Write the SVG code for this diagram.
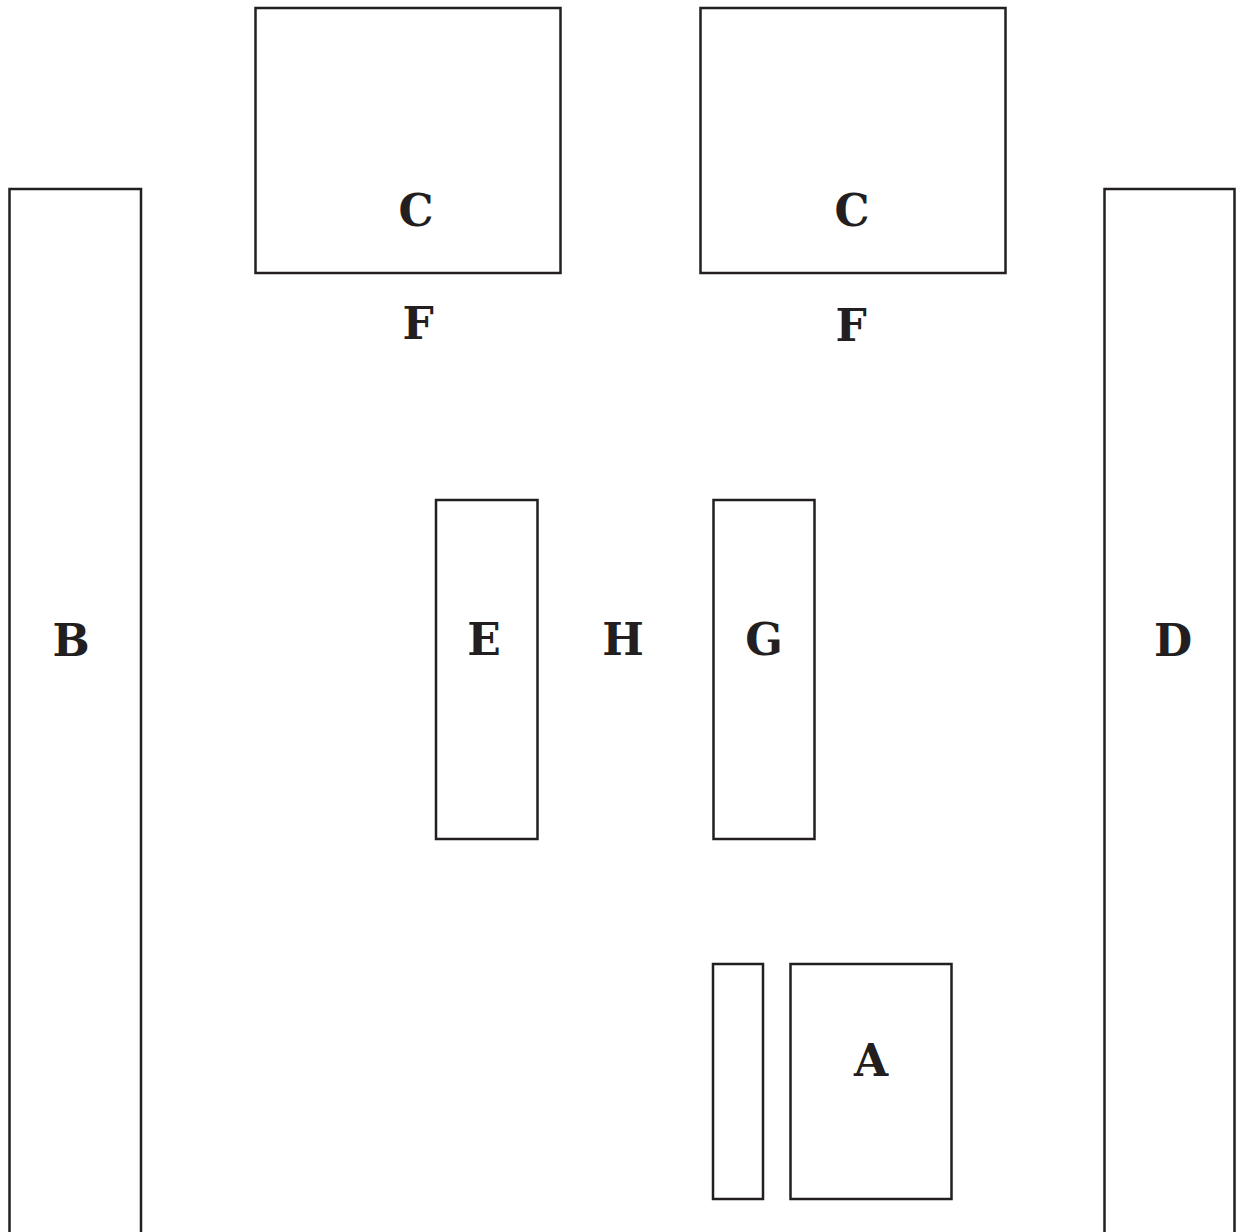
<svg xmlns="http://www.w3.org/2000/svg" width="1236" height="1232" viewBox="0 0 1236 1232">
<style>
rect.box{fill:none;stroke:#231f20;stroke-width:2.5}
text{font-family:"DejaVu Serif","Liberation Serif",serif;font-weight:bold;font-size:44px;fill:#231f20;text-anchor:middle}
</style>
<rect width="1236" height="1232" fill="#fff"/>
<g id="B"><rect class="box" x="9.5" y="189" width="131.5" height="1060"/><text x="71" y="656">B</text></g>
<g id="D"><rect class="box" x="1104.5" y="189" width="130" height="1060"/><text x="1173" y="656">D</text></g>
<g id="C1"><rect class="box" x="255.5" y="8" width="305" height="265"/><text x="416" y="226">C</text></g>
<g id="C2"><rect class="box" x="700.5" y="8" width="305" height="265"/><text x="852" y="226">C</text></g>
<g id="F1"><text x="418" y="339">F</text></g>
<g id="F2"><text x="851" y="341">F</text></g>
<g id="E"><rect class="box" x="436" y="500" width="101.5" height="339"/><text x="484" y="655">E</text></g>
<g id="H"><text x="623" y="655">H</text></g>
<g id="G"><rect class="box" x="713.5" y="500" width="101" height="339"/><text x="764" y="655">G</text></g>
<g id="S"><rect class="box" x="713" y="964" width="50" height="235"/></g>
<g id="A"><rect class="box" x="790.5" y="964" width="161" height="235"/><text x="871" y="1076">A</text></g>
<g id="connectors"></g>
</svg>
